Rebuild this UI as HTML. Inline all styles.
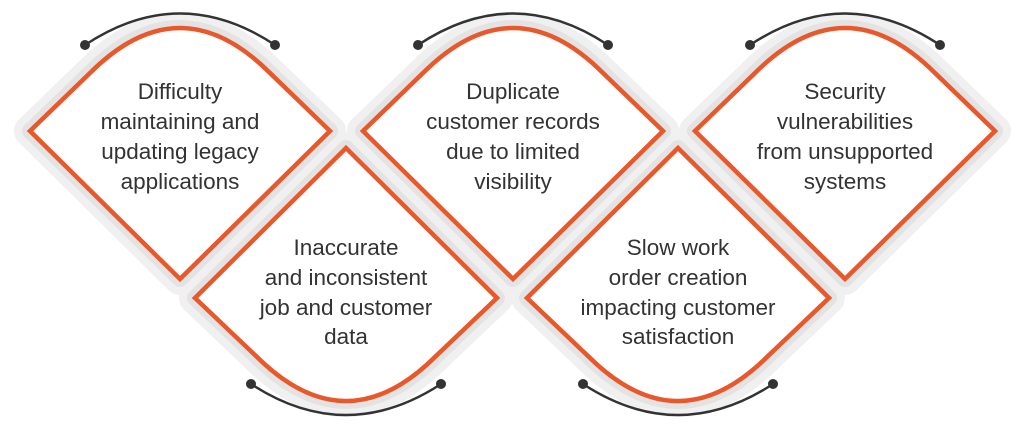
<!DOCTYPE html>
<html><head><meta charset="utf-8"><style>
html,body{margin:0;padding:0;background:#fff;width:1024px;height:439px;overflow:hidden}
svg{display:block}
text{font-family:"Liberation Sans",sans-serif;font-size:22.5px;fill:#333;text-anchor:middle}
</style></head><body>
<svg width="1024" height="439" viewBox="0 0 1024 439">
<defs>
<path id="t" d="M-150,131 L-90,73 Q0,-17 90,73 L150,131 L0,279 Z"/>
<path id="b" d="M-151,298 L0,148 L151,298 L90,356 Q0,446 -90,356 Z"/>
</defs>
<g fill="none" stroke="#f0f0f0" stroke-width="32" stroke-linejoin="round">
<use href="#t" x="180"/><use href="#b" x="346"/><use href="#t" x="513"/><use href="#b" x="678"/><use href="#t" x="845"/>
</g>
<g fill="none" stroke="#e3e3e3" stroke-width="16" stroke-linejoin="round">
<use href="#t" x="180"/><use href="#b" x="346"/><use href="#t" x="513"/><use href="#b" x="678"/><use href="#t" x="845"/>
</g>
<g fill="#fff" stroke="#e8582a" stroke-width="4.5" stroke-linejoin="miter">
<use href="#t" x="180"/><use href="#b" x="346"/><use href="#t" x="513"/><use href="#b" x="678"/><use href="#t" x="845"/>
</g>
<g fill="none" stroke="#333" stroke-width="2.5">
<path d="M85,45 Q180,-18 275,45"/><path d="M418,45 Q513,-18 608,45"/><path d="M750,45 Q845,-18 940,45"/>
<path d="M251,384 Q346,446 441,384"/><path d="M583,384 Q678,446 773,384"/>
</g>
<g fill="#333">
<circle cx="85" cy="45" r="5"/><circle cx="275" cy="45" r="5"/>
<circle cx="418" cy="45" r="5"/><circle cx="608" cy="45" r="5"/>
<circle cx="750" cy="45" r="5"/><circle cx="940" cy="45" r="5"/>
<circle cx="251" cy="384" r="5"/><circle cx="441" cy="384" r="5"/>
<circle cx="583" cy="384" r="5"/><circle cx="773" cy="384" r="5"/>
</g>
<text x="180" y="99">Difficulty</text>
<text x="180" y="129">maintaining and</text>
<text x="180" y="159">updating legacy</text>
<text x="180" y="189">applications</text>
<text x="346" y="255">Inaccurate</text>
<text x="346" y="285">and inconsistent</text>
<text x="346" y="315">job and customer</text>
<text x="346" y="344">data</text>
<text x="513" y="99">Duplicate</text>
<text x="513" y="129">customer records</text>
<text x="513" y="159">due to limited</text>
<text x="513" y="189">visibility</text>
<text x="678" y="255">Slow work</text>
<text x="678" y="285">order creation</text>
<text x="678" y="315">impacting customer</text>
<text x="678" y="344">satisfaction</text>
<text x="845" y="99">Security</text>
<text x="845" y="129">vulnerabilities</text>
<text x="845" y="159">from unsupported</text>
<text x="845" y="189">systems</text>
</svg>
</body></html>
